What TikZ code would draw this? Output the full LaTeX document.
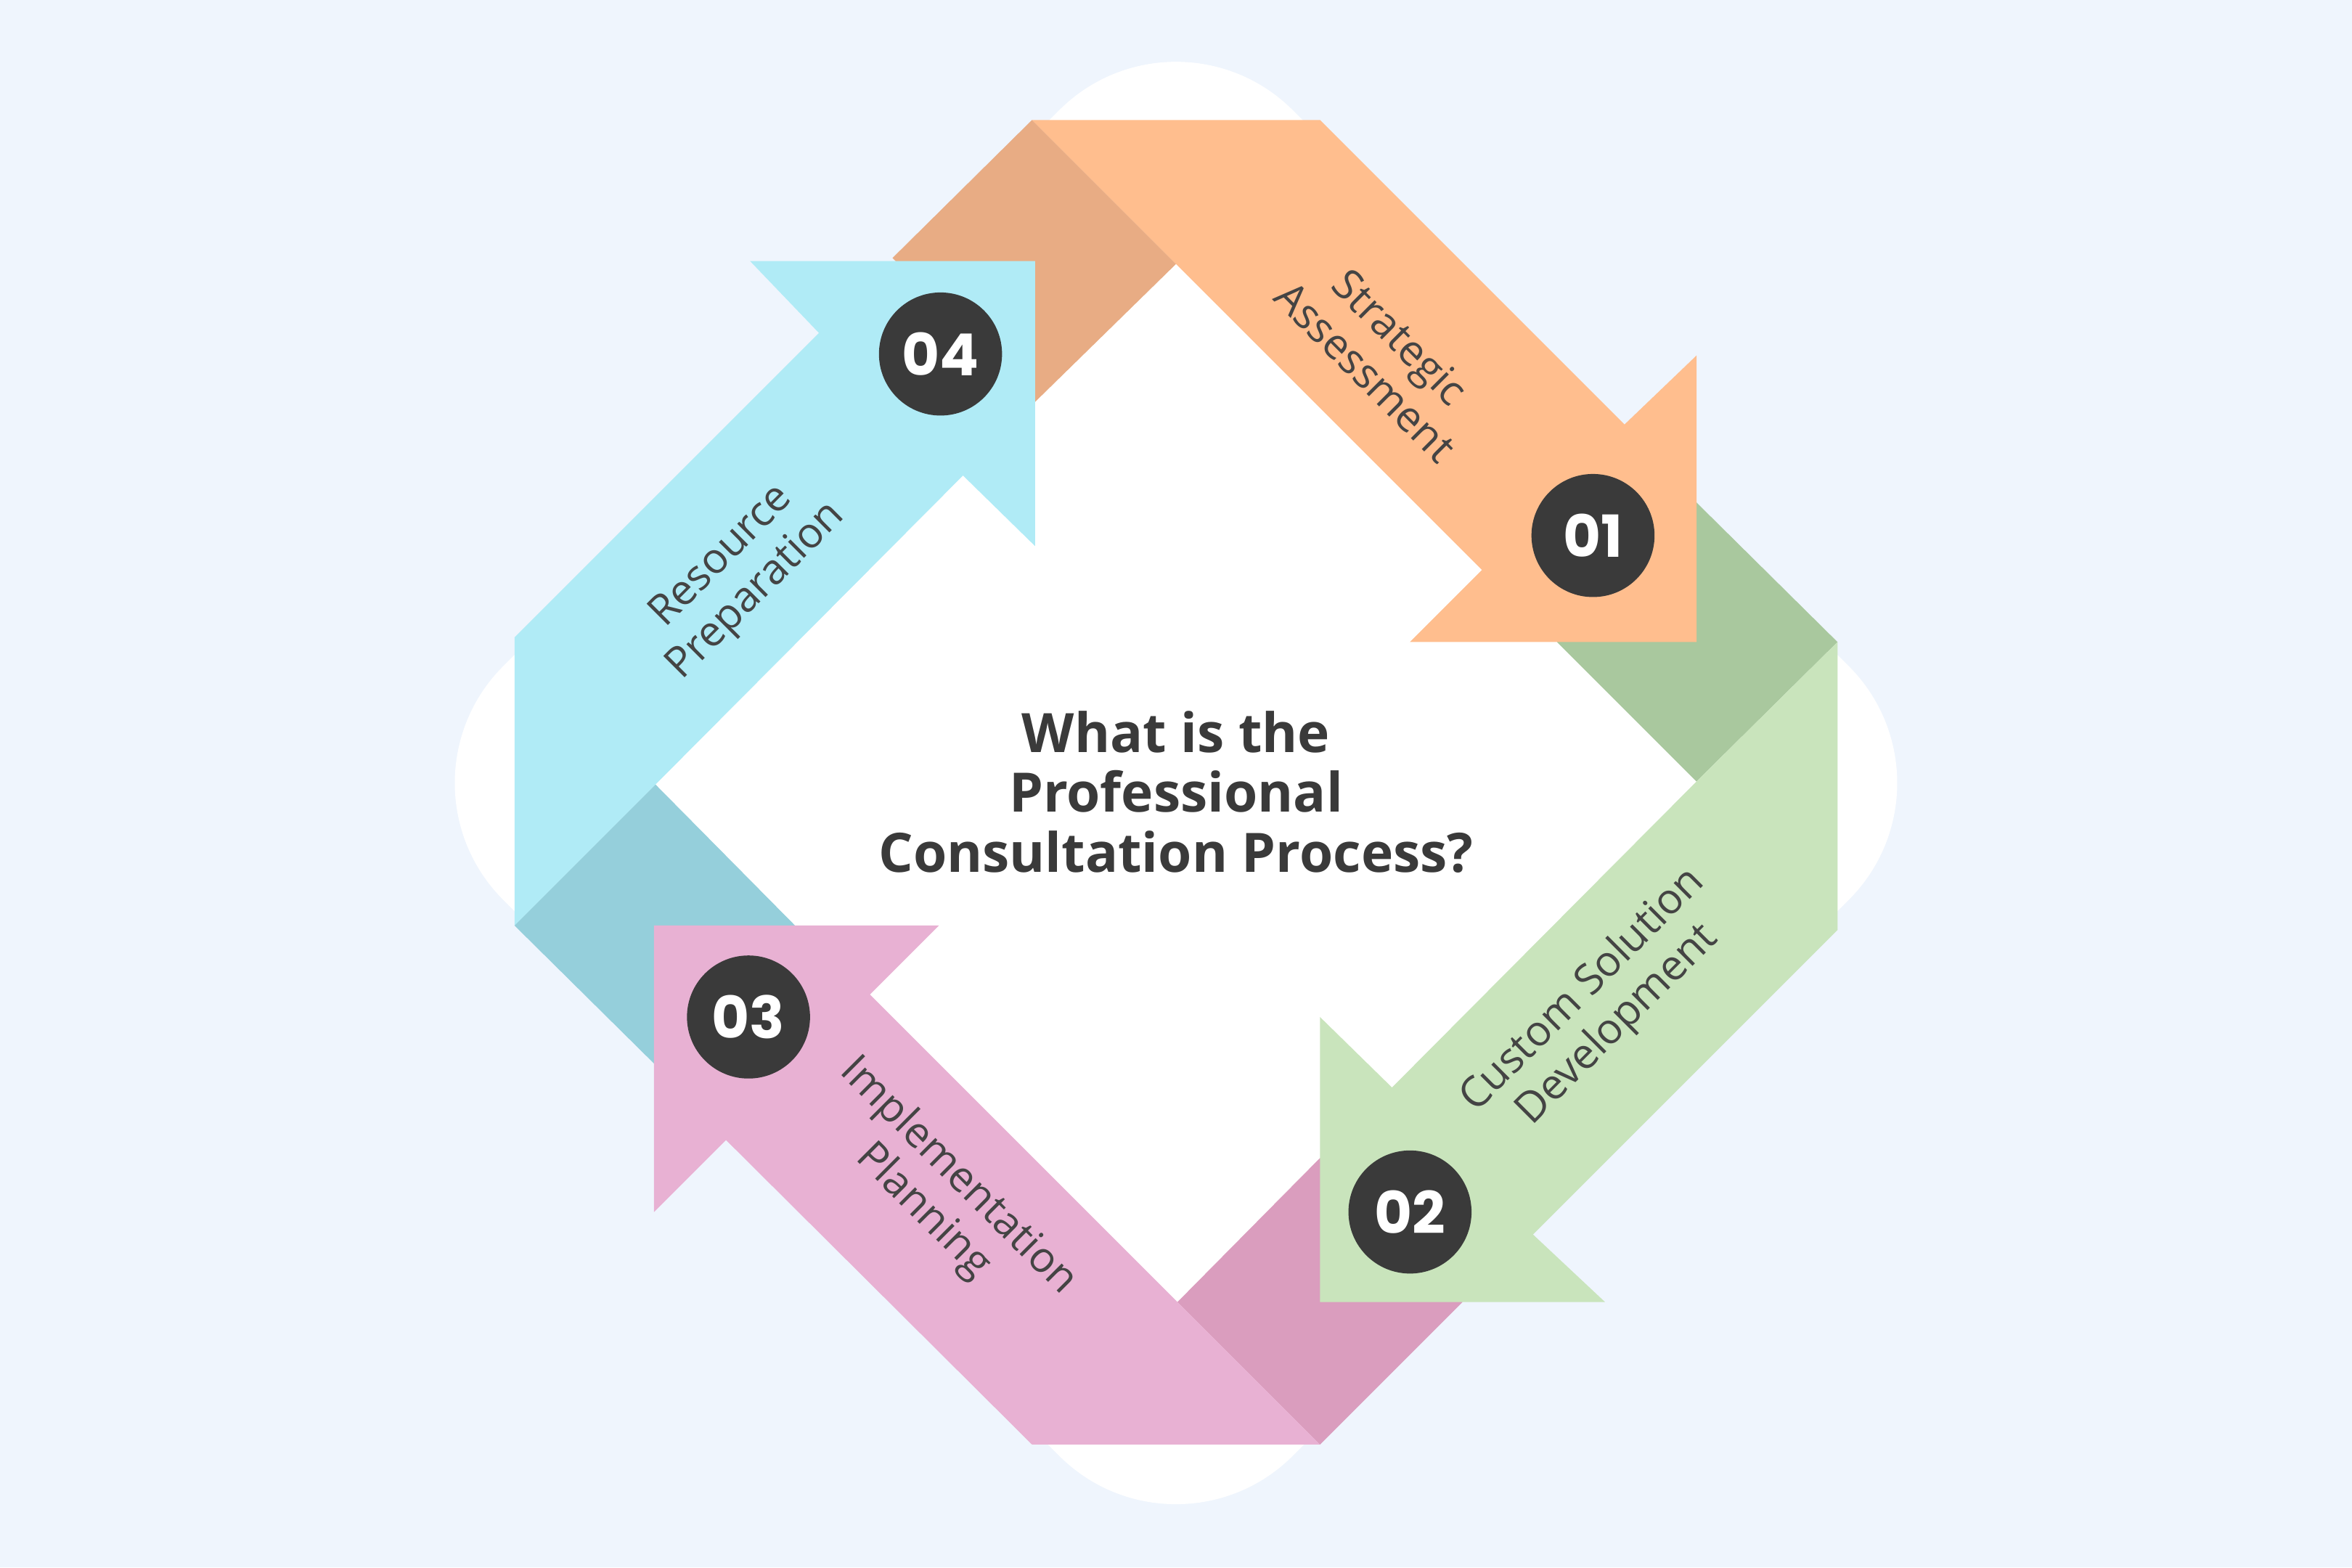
\documentclass[tikz,border=0pt]{standalone}
\usepackage{fontspec}
\setmainfont{Open Sans}
\newfontfamily\numfont{Poppins}
\usetikzlibrary{positioning}
\definecolor{bgblue}{HTML}{EFF5FD}
\definecolor{darkgrey}{HTML}{3A3A3A}
\definecolor{textgrey}{HTML}{444444}
\definecolor{orangeband}{HTML}{FFBE8E}
\definecolor{orangefold}{HTML}{E8AC84}
\definecolor{greenband}{HTML}{C9E4BC}
\definecolor{greenfold}{HTML}{A9C89E}
\definecolor{pinkband}{HTML}{E8B1D3}
\definecolor{pinkfold}{HTML}{DA9DBE}
\definecolor{blueband}{HTML}{B0EBF6}
\definecolor{bluefold}{HTML}{95CFDB}
\tikzset{
  stepnum/.style={circle,fill=darkgrey,minimum size=0.82cm,inner sep=0pt,
    text=white,font=\numfont\bfseries\fontsize{11}{12}\selectfont},
  steplabel/.style={text=textgrey,align=center,
    font=\fontsize{8}{9.3}\selectfont},
}
\begin{document}
\begin{tikzpicture}[x=0.01cm,y=-0.01cm]
\fill[bgblue] (0,0) rectangle (1568,1045);
\useasboundingbox (0,0) rectangle (1568,1045);
% white diamond
\node[fill=white,rounded corners=1.1cm,minimum size=7.44cm,inner sep=0pt,
  rotate=45] (back) at (784,522) {};
% folds
\fill[orangefold] (595,172) -- (688,80) -- (784,176) -- (690,268) -- cycle;
\fill[greenfold] (1038,428) -- (1131,335) -- (1225,428) -- (1131,521) -- cycle;
\fill[pinkfold] (785,868) -- (880,772) -- (975,868) -- (880,963) -- cycle;
\fill[bluefold] (343,617) -- (437,523) -- (530,617) -- (437,710) -- cycle;
% bands
\fill[orangeband] (688,80) -- (880,80) -- (1083,283) -- (1131,237) -- (1131,428)
  -- (940,428) -- (988,380) -- (784,176) -- cycle;
\fill[greenband] (1225,428) -- (1225,620) -- (1022,823) -- (1070,868) -- (880,868)
  -- (880,678) -- (928,725) -- (1131,521) -- cycle;
\fill[pinkband] (880,963) -- (688,963) -- (484,760) -- (436,808) -- (436,617)
  -- (626,617) -- (580,663) -- (785,868) -- cycle;
\fill[blueband] (343,617) -- (343,425) -- (546,222) -- (500,174) -- (690,174)
  -- (690,364) -- (642,317) -- (437,523) -- cycle;
% numbers
\node[stepnum] (n1) at (1062,357) {01};
\node[stepnum] (n2) at (940,808) {02};
\node[stepnum] (n3) at (499,678) {03};
\node[stepnum] (n4) at (627,236) {04};
% labels
\node[steplabel,rotate=-45] (l1) at (922,236) {Strategic\\Assessment};
\node[steplabel,rotate=45] (l2) at (1067,672) {Custom Solution\\Development};
\node[steplabel,rotate=-45] (l3) at (627,796) {Implementation\\Planning};
\node[steplabel,rotate=45] (l4) at (493,383) {Resource\\Preparation};
% title
\node[text=darkgrey,align=center,font=\bfseries\fontsize{10.3}{11.3}\selectfont]
  (title) at (784,528) {What is the\\Professional\\Consultation Process?};
\end{tikzpicture}
\end{document}
